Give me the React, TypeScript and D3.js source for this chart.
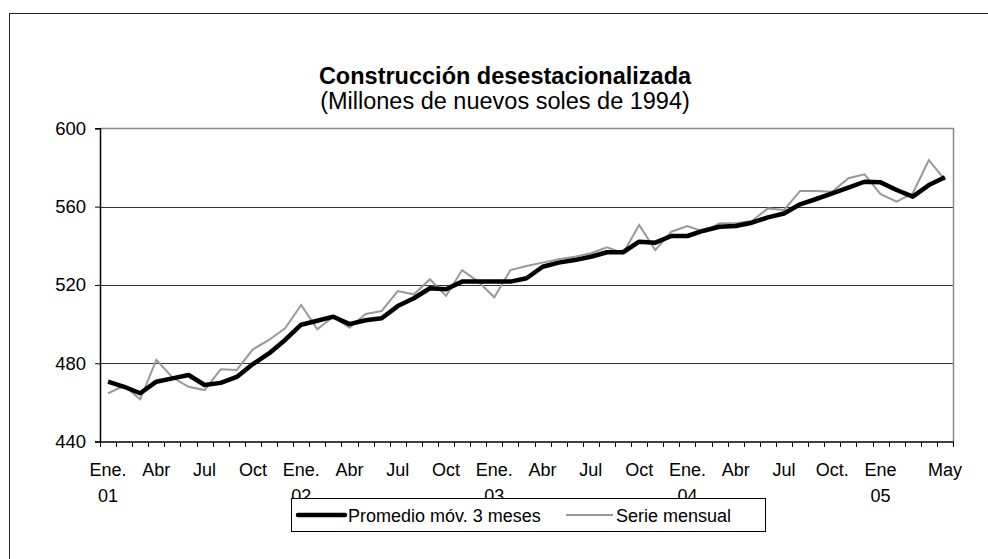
import React, { useEffect, useRef } from 'react';
import * as d3 from 'd3';

// Monthly series, Jan 2001 - May 2005 (53 months)
const months = d3.range(53);

const promedio = [
  470.6, 468, 464.7, 470.6, 472.3, 474, 468.9, 470, 473, 479.6, 485, 491.9,
  499.7, 501.7, 503.8, 500, 502, 503, 509.2, 513.2, 518.3, 517.8, 521.7, 521.7,
  521.7, 521.7, 523.4, 529.3, 531.4, 532.7, 534.4, 536.7, 536.7, 542.1, 541.6, 545,
  545, 547.7, 549.7, 550.1, 551.8, 554.5, 556.5, 561.2, 563.9, 566.8, 569.7, 572.7,
  572.4, 568.5, 565.1, 571, 575,
];

const mensual = [
  464.7, 468.5, 461.6, 481.7, 472.8, 468, 466.3, 476.9, 476.6, 487.1, 491.9, 497.9,
  509.8, 497.4, 503.8, 498.2, 505.2, 506.7, 516.9, 515.2, 522.9, 514.4, 527.6, 521.7,
  513.7, 527.6, 529.7, 531.4, 533.1, 534.4, 536.2, 539.2, 536.2, 550.6, 537.8, 547.2,
  550.1, 547.2, 551.5, 551.5, 552.7, 559.1, 558.3, 568, 568, 567.6, 574.5, 576.5,
  566.4, 562.5, 566.8, 583.8, 573.6,
];

const yTicks = [440, 480, 520, 560, 600];

const xLabels: [number, string, string][] = [
  [0, 'Ene.', '01'], [3, 'Abr', ''], [6, 'Jul', ''], [9, 'Oct', ''],
  [12, 'Ene.', '02'], [15, 'Abr', ''], [18, 'Jul', ''], [21, 'Oct', ''],
  [24, 'Ene.', '03'], [27, 'Abr', ''], [30, 'Jul', ''], [33, 'Oct', ''],
  [36, 'Ene.', '04'], [39, 'Abr', ''], [42, 'Jul', ''], [45, 'Oct.', ''],
  [48, 'Ene', '05'], [52, 'May', ''],
];

const App = () => {
  const svgRef = useRef<SVGSVGElement>(null);

  useEffect(() => {
    const svg = d3.select(svgRef.current);
    svg.selectAll('*').remove();

    const font = 'Arial, "Liberation Sans", sans-serif';
    const left = 100, right = 953, top = 128.3, bottom = 441.6;

    const x = d3.scaleBand<number>().domain(months).range([left, right]);
    const y = d3.scaleLinear().domain([440, 600]).range([bottom, top]);
    const cx = (i: number) => (x(i) as number) + x.bandwidth() / 2;

    // outer frame
    svg.append('rect')
      .attr('x', 9.5).attr('y', 13.5).attr('width', 1000).attr('height', 600)
      .attr('fill', 'white').attr('stroke', '#222').attr('stroke-width', 1);

    svg.append('text')
      .attr('x', 505).attr('y', 84)
      .attr('text-anchor', 'middle')
      .style('font-family', font).style('font-size', '23.5px').style('font-weight', 'bold')
      .text('Construcción desestacionalizada');
    svg.append('text')
      .attr('x', 505).attr('y', 109)
      .attr('text-anchor', 'middle')
      .style('font-family', font).style('font-size', '23.5px')
      .text('(Millones de nuevos soles de 1994)');

    // gridlines
    svg.append('g')
      .selectAll('line')
      .data(yTicks.filter(t => t > 440 && t < 600))
      .enter().append('line')
      .attr('x1', left).attr('x2', right)
      .attr('y1', d => Math.round(y(d)) + 0.5).attr('y2', d => Math.round(y(d)) + 0.5)
      .attr('stroke', '#333').attr('stroke-width', 1);

    // plot area top / right border
    svg.append('path')
      .attr('d', `M${left},${Math.round(top) + 0.5}H${right + 0.5}V${bottom}`)
      .attr('fill', 'none').attr('stroke', '#888').attr('stroke-width', 1.5);

    // y axis
    const yAxis = svg.append('g')
      .attr('transform', `translate(${left},0)`)
      .call(d3.axisLeft(y).tickValues(yTicks).tickSize(5).tickPadding(9));
    yAxis.select('.domain').attr('stroke', '#000').attr('stroke-width', 1.5);
    yAxis.selectAll('line').attr('stroke', '#000');
    yAxis.selectAll('text')
      .style('font-family', font).style('font-size', '18.5px').attr('fill', '#000');

    // x axis with tick at every category boundary
    const xAxisY = Math.round(bottom);
    svg.append('line')
      .attr('x1', left).attr('x2', right + 1)
      .attr('y1', xAxisY).attr('y2', xAxisY)
      .attr('stroke', '#000').attr('stroke-width', 1.5);
    svg.append('g')
      .selectAll('line')
      .data(d3.range(54))
      .enter().append('line')
      .attr('x1', d => Math.round(left + d * x.step()) + 0.5)
      .attr('x2', d => Math.round(left + d * x.step()) + 0.5)
      .attr('y1', xAxisY).attr('y2', xAxisY + 5)
      .attr('stroke', '#000').attr('stroke-width', 1);

    const labels = svg.append('g')
      .style('font-family', font).style('font-size', '18px');
    xLabels.forEach(([i, a, b]) => {
      labels.append('text').attr('x', cx(i)).attr('y', 476).attr('text-anchor', 'middle').text(a);
      if (b) labels.append('text').attr('x', cx(i)).attr('y', 502).attr('text-anchor', 'middle').text(b);
    });

    const line = d3.line<number>().x((_, i) => cx(i)).y(d => y(d));

    svg.append('path')
      .datum(mensual)
      .attr('d', line)
      .attr('fill', 'none').attr('stroke', '#999').attr('stroke-width', 2);

    svg.append('path')
      .datum(promedio)
      .attr('d', line)
      .attr('fill', 'none').attr('stroke', '#000').attr('stroke-width', 4.5)
      .attr('stroke-linejoin', 'round');

    // legend
    const lg = svg.append('g');
    lg.append('rect')
      .attr('x', 291.5).attr('y', 498.5).attr('width', 474).attr('height', 33)
      .attr('fill', 'white').attr('stroke', '#000').attr('stroke-width', 1);
    lg.append('line')
      .attr('x1', 298).attr('x2', 345).attr('y1', 515).attr('y2', 515)
      .attr('stroke', '#000').attr('stroke-width', 4.5).attr('stroke-linecap', 'round');
    lg.append('text')
      .attr('x', 348).attr('y', 521.5)
      .style('font-family', font).style('font-size', '18px')
      .text('Promedio móv. 3 meses');
    lg.append('line')
      .attr('x1', 566).attr('x2', 613).attr('y1', 515).attr('y2', 515)
      .attr('stroke', '#999').attr('stroke-width', 2);
    lg.append('text')
      .attr('x', 616).attr('y', 521.5)
      .style('font-family', font).style('font-size', '18px')
      .text('Serie mensual');
  }, []);

  return (
    <svg
      ref={svgRef}
      width={988}
      height={559}
      style={{ position: 'absolute', left: 0, top: 0, background: 'white' }}
    />
  );
};

export default App;
